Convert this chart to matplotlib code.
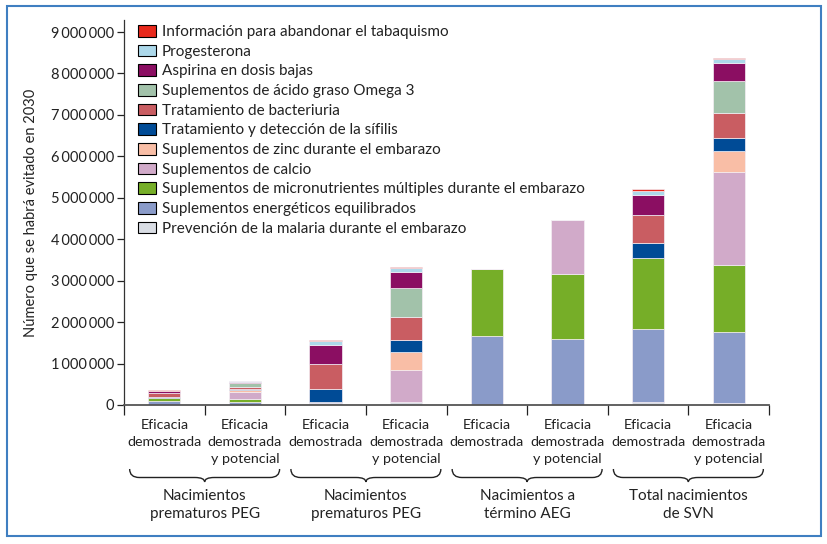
import matplotlib
matplotlib.use("Agg")
import matplotlib.pyplot as plt
import numpy as np
from matplotlib.patches import Patch, PathPatch, Rectangle
from matplotlib.path import Path
from matplotlib.transforms import blended_transform_factory
from matplotlib.ticker import FuncFormatter

plt.rcParams['font.family'] = ['Lato', 'DejaVu Sans']

# ---------------- data ----------------
bar_labels = ["Eficacia\ndemostrada", "Eficacia\ndemostrada\ny potencial"] * 4
group_labels = ["Nacimientos\nprematuros PEG", "Nacimientos\nprematuros PEG",
                "Nacimientos a\ntérmino AEG", "Total nacimientos\nde SVN"]

# stacking order bottom -> top
series_names = [
    "Prevención de la malaria durante el embarazo",
    "Suplementos energéticos equilibrados",
    "Suplementos de micronutrientes múltiples durante el embarazo",
    "Suplementos de calcio",
    "Suplementos de zinc durante el embarazo",
    "Tratamiento y detección de la sífilis",
    "Tratamiento de bacteriuria",
    "Suplementos de ácido graso Omega 3",
    "Aspirina en dosis bajas",
    "Progesterona",
    "Información para abandonar el tabaquismo",
]
series_colors = ["#d9dde4", "#8a9bc9", "#76ae28", "#d1aac9", "#f9bea6",
                 "#004b96", "#c95d62", "#a2c2aa", "#8b0e62", "#acd8ea", "#e8291c"]

# values in millions, one per bar
malaria    = [0.01, 0.01, 0.04, 0.065, 0.00, 0.00, 0.08, 0.06]
energia    = [0.08, 0.06, 0.03, 0.00, 1.67, 1.59, 1.76, 1.69]
micronut   = [0.09, 0.08, 0.00, 0.00, 1.62, 1.56, 1.71, 1.64]
calcio     = [0.00, 0.16, 0.00, 0.78, 0.00, 1.32, 0.00, 2.24]
zinc       = [0.00, 0.05, 0.00, 0.44, 0.00, 0.00, 0.00, 0.50]
sifilis    = [0.02, 0.03, 0.31, 0.28, 0.00, 0.00, 0.35, 0.31]
bacteriuria= [0.08, 0.05, 0.62, 0.55, 0.00, 0.00, 0.68, 0.60]
omega3     = [0.00, 0.08, 0.00, 0.70, 0.00, 0.00, 0.00, 0.77]
aspirina   = [0.05, 0.03, 0.45, 0.39, 0.00, 0.00, 0.49, 0.45]
progest    = [0.01, 0.02, 0.09, 0.10, 0.00, 0.00, 0.10, 0.08]
tabaco     = [0.01, 0.01, 0.02, 0.03, 0.00, 0.00, 0.03, 0.03]
series_values = [malaria, energia, micronut, calcio, zinc, sifilis,
                 bacteriuria, omega3, aspirina, progest, tabaco]

yticks = np.arange(0, 9_000_001, 1_000_000)

# ---------------- figure ----------------
W, H = 827, 544
fig = plt.figure(figsize=(W / 100, H / 100), dpi=100)
ax = fig.add_axes([124 / W, 1 - 405 / H, (769 - 124) / W, (405 - 20) / H])

x = np.arange(len(bar_labels))
bottom = np.zeros(len(x))
for name, vals, col in zip(series_names, series_values, series_colors):
    v = np.array(vals) * 1e6
    ax.bar(x, v, bottom=bottom, width=0.4, color=col, edgecolor="#f4eef4",
           linewidth=0.5, zorder=2)
    bottom += v

ax.set_xlim(-0.5, len(x) - 0.5)
ax.set_ylim(0, 9.29e6)
ax.set_yticks(yticks)
ax.yaxis.set_major_formatter(FuncFormatter(
    lambda v, p: f"{int(v):,}".replace(",", "\u2009")))
ax.tick_params(axis="y", direction="out", length=5, width=0.9, labelsize=10.5,
               pad=2, colors="#222222")

ax.set_xticks(x)
ax.set_xticklabels(bar_labels, fontsize=10.3, va="top")
for t in ax.get_xticklabels():
    t.set_linespacing(1.5)
ax.tick_params(axis="x", which="major", length=0, pad=10, colors="#222222")
ax.set_xticks(np.arange(-0.5, len(x), 1.0), minor=True)
ax.tick_params(axis="x", which="minor", direction="out", length=7, width=0.9,
               color="#222222")

for s in ["top", "right"]:
    ax.spines[s].set_visible(False)
ax.spines["left"].set_color("#333333")
ax.spines["left"].set_linewidth(0.9)
ax.spines["bottom"].set_color("#555555")
ax.spines["bottom"].set_linewidth(1.3)

ax.set_ylabel("Número que se habrá evitado en 2030", fontsize=10.5,
              color="#222222", labelpad=9)

# legend (top entry = last stacked series)
handles = [Patch(facecolor=c, edgecolor="black", linewidth=0.8, label=n)
           for n, c in zip(series_names[::-1], series_colors[::-1])]
leg = ax.legend(handles=handles, loc="upper left",
                bbox_to_anchor=(0.021, 0.987), frameon=False, fontsize=11,
                handlelength=1.2, handleheight=0.8, labelspacing=0.36,
                handletextpad=0.4, borderaxespad=0, borderpad=0)
for t in leg.get_texts():
    t.set_color("#222222")

# braces and group labels
trans = blended_transform_factory(ax.transData, fig.transFigure)
def fy(py):
    return 1 - py / H

ytop, ymid, ytip = fy(469), fy(477.5), fy(482)
r = 0.12
for g, lab in enumerate(group_labels):
    x0, x1 = 2 * g - 0.43, 2 * g + 1.43
    xc = 2 * g + 0.5
    verts = [(x0, ytop), (x0, ymid), (x0 + r, ymid),
             (xc - r, ymid), (xc, ymid), (xc, ytip),
             (xc, ymid), (xc + r, ymid),
             (x1 - r, ymid), (x1, ymid), (x1, ytop)]
    codes = [Path.MOVETO, Path.CURVE3, Path.CURVE3,
             Path.LINETO, Path.CURVE3, Path.CURVE3,
             Path.CURVE3, Path.CURVE3,
             Path.LINETO, Path.CURVE3, Path.CURVE3]
    ax.add_patch(PathPatch(Path(verts, codes), transform=trans, fill=False,
                           edgecolor="#222222", linewidth=1.0, clip_on=False))
    ax.text(xc, fy(489), lab, transform=trans, ha="center", va="top",
            fontsize=11, linespacing=1.4, color="#222222")

# outer blue frame
fig.patches.append(Rectangle((7 / W, 1 - 536 / H), (821 - 7) / W, (536 - 6) / H,
                             transform=fig.transFigure, fill=False,
                             edgecolor="#3f7fc1", linewidth=1.5))

fig.savefig("out.png", dpi=100)
